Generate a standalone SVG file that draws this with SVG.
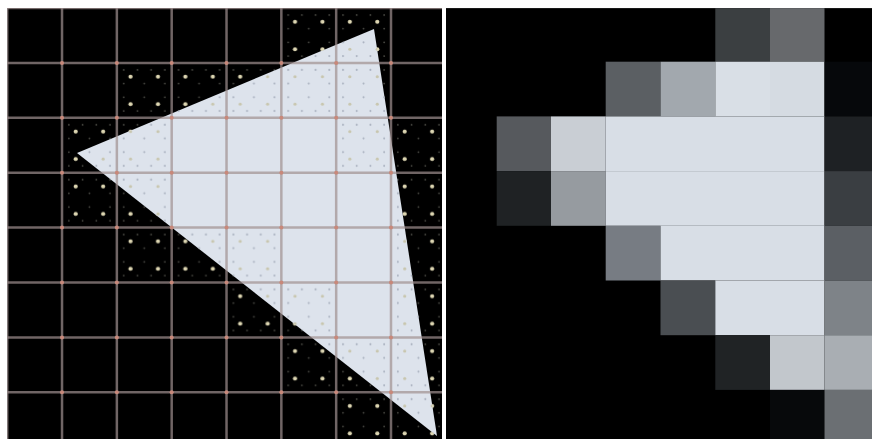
<svg xmlns="http://www.w3.org/2000/svg" width="872" height="439" viewBox="0 0 872 439">
<style>
.grid line{stroke:#a09090;stroke-opacity:0.7;stroke-width:2.5}
.dc{fill:url(#dots)}
.dt{fill:url(#dotsT)}
.px{stroke:none}
</style>
<defs>
<pattern id="dots" patternUnits="userSpaceOnUse" x="7.2" y="8.1" width="54.83" height="54.88">
<rect width="54.83" height="54.88" fill="#000"/>
<g fill="#4a4a44">
<circle cx="6.85" cy="6.86" r="0.9"/><circle cx="20.56" cy="6.86" r="0.9"/><circle cx="34.27" cy="6.86" r="0.9"/><circle cx="47.98" cy="6.86" r="0.9"/>
<circle cx="6.85" cy="20.58" r="0.9"/><circle cx="47.98" cy="20.58" r="0.9"/><circle cx="27.4" cy="20.58" r="0.9"/>
<circle cx="6.85" cy="34.3" r="0.9"/><circle cx="47.98" cy="34.3" r="0.9"/><circle cx="27.4" cy="34.3" r="0.9"/>
<circle cx="6.85" cy="48.02" r="0.9"/><circle cx="20.56" cy="48.02" r="0.9"/><circle cx="34.27" cy="48.02" r="0.9"/><circle cx="47.98" cy="48.02" r="0.9"/>
</g>
<g fill="#ddd6b2">
<circle cx="13.7" cy="13.72" r="2.1"/><circle cx="41.12" cy="13.72" r="2.1"/>
<circle cx="13.7" cy="41.16" r="2.1"/><circle cx="41.12" cy="41.16" r="2.1"/>
</g>
</pattern>
<pattern id="dotsT" patternUnits="userSpaceOnUse" x="7.2" y="8.1" width="54.83" height="54.88">
<g fill="#aab2c0">
<circle cx="6.85" cy="6.86" r="1"/><circle cx="20.56" cy="6.86" r="1"/><circle cx="34.27" cy="6.86" r="1"/><circle cx="47.98" cy="6.86" r="1"/>
<circle cx="6.85" cy="20.58" r="1"/><circle cx="27.4" cy="20.58" r="1"/><circle cx="47.98" cy="20.58" r="1"/>
<circle cx="6.85" cy="34.3" r="1"/><circle cx="27.4" cy="34.3" r="1"/><circle cx="47.98" cy="34.3" r="1"/>
<circle cx="6.85" cy="48.02" r="1"/><circle cx="20.56" cy="48.02" r="1"/><circle cx="34.27" cy="48.02" r="1"/><circle cx="47.98" cy="48.02" r="1"/>
</g>
<g fill="#c8c6ae">
<circle cx="13.7" cy="13.72" r="1.6"/><circle cx="41.12" cy="13.72" r="1.6"/>
<circle cx="13.7" cy="41.16" r="1.6"/><circle cx="41.12" cy="41.16" r="1.6"/>
</g>
</pattern>
<clipPath id="leftClip"><rect x="7.2" y="8.1" width="434.8" height="430.9"/></clipPath>
<clipPath id="triClip"><polygon points="77,153 374,29 437,436"/></clipPath>
</defs>
<rect width="872" height="439" fill="#fff"/>
<g id="left-panel" clip-path="url(#leftClip)">
<rect x="7.2" y="8.1" width="434.8" height="430.9" fill="#000"/>
<g id="sample-cells">
<rect class="dc" x="281.35" y="8.1" width="109.66" height="54.88"/>
<rect class="dc" x="116.86" y="62.98" width="274.15" height="54.88"/>
<rect class="dc" x="62.03" y="117.86" width="109.66" height="54.88"/>
<rect class="dc" x="336.18" y="117.86" width="109.66" height="54.88"/>
<rect class="dc" x="62.03" y="172.74" width="109.66" height="54.88"/>
<rect class="dc" x="391.01" y="172.74" width="54.83" height="54.88"/>
<rect class="dc" x="116.86" y="227.62" width="164.49" height="54.88"/>
<rect class="dc" x="391.01" y="227.62" width="54.83" height="54.88"/>
<rect class="dc" x="226.52" y="282.5" width="109.66" height="54.88"/>
<rect class="dc" x="391.01" y="282.5" width="54.83" height="54.88"/>
<rect class="dc" x="281.35" y="337.38" width="164.49" height="54.88"/>
<rect class="dc" x="336.18" y="392.26" width="109.66" height="54.88"/>
</g>
<polygon id="triangle" points="77,153 374,29 437,436" fill="#dde3ec"/>
<g id="sample-cells-inside" clip-path="url(#triClip)">
<rect class="dt" x="281.35" y="8.1" width="109.66" height="54.88"/>
<rect class="dt" x="116.86" y="62.98" width="274.15" height="54.88"/>
<rect class="dt" x="62.03" y="117.86" width="109.66" height="54.88"/>
<rect class="dt" x="336.18" y="117.86" width="109.66" height="54.88"/>
<rect class="dt" x="62.03" y="172.74" width="109.66" height="54.88"/>
<rect class="dt" x="391.01" y="172.74" width="54.83" height="54.88"/>
<rect class="dt" x="116.86" y="227.62" width="164.49" height="54.88"/>
<rect class="dt" x="391.01" y="227.62" width="54.83" height="54.88"/>
<rect class="dt" x="226.52" y="282.5" width="109.66" height="54.88"/>
<rect class="dt" x="391.01" y="282.5" width="54.83" height="54.88"/>
<rect class="dt" x="281.35" y="337.38" width="164.49" height="54.88"/>
<rect class="dt" x="336.18" y="392.26" width="109.66" height="54.88"/>
</g>
<g class="grid" id="grid">
<line x1="7.2" y1="8.1" x2="7.2" y2="439"/>
<line x1="62.03" y1="8.1" x2="62.03" y2="439"/>
<line x1="116.86" y1="8.1" x2="116.86" y2="439"/>
<line x1="171.69" y1="8.1" x2="171.69" y2="439"/>
<line x1="226.52" y1="8.1" x2="226.52" y2="439"/>
<line x1="281.35" y1="8.1" x2="281.35" y2="439"/>
<line x1="336.18" y1="8.1" x2="336.18" y2="439"/>
<line x1="391.01" y1="8.1" x2="391.01" y2="439"/>
<line x1="7.2" y1="8.1" x2="442" y2="8.1"/>
<line x1="7.2" y1="62.98" x2="442" y2="62.98"/>
<line x1="7.2" y1="117.86" x2="442" y2="117.86"/>
<line x1="7.2" y1="172.74" x2="442" y2="172.74"/>
<line x1="7.2" y1="227.62" x2="442" y2="227.62"/>
<line x1="7.2" y1="282.5" x2="442" y2="282.5"/>
<line x1="7.2" y1="337.38" x2="442" y2="337.38"/>
<line x1="7.2" y1="392.26" x2="442" y2="392.26"/>
</g>
<g id="intersections" fill="#c8887a">
<circle cx="62.03" cy="62.98" r="2"/><circle cx="116.86" cy="62.98" r="2"/><circle cx="171.69" cy="62.98" r="2"/><circle cx="226.52" cy="62.98" r="2"/><circle cx="281.35" cy="62.98" r="2"/><circle cx="336.18" cy="62.98" r="2"/><circle cx="391.01" cy="62.98" r="2"/>
<circle cx="62.03" cy="117.86" r="2"/><circle cx="116.86" cy="117.86" r="2"/><circle cx="171.69" cy="117.86" r="2"/><circle cx="226.52" cy="117.86" r="2"/><circle cx="281.35" cy="117.86" r="2"/><circle cx="336.18" cy="117.86" r="2"/><circle cx="391.01" cy="117.86" r="2"/>
<circle cx="62.03" cy="172.74" r="2"/><circle cx="116.86" cy="172.74" r="2"/><circle cx="171.69" cy="172.74" r="2"/><circle cx="226.52" cy="172.74" r="2"/><circle cx="281.35" cy="172.74" r="2"/><circle cx="336.18" cy="172.74" r="2"/><circle cx="391.01" cy="172.74" r="2"/>
<circle cx="62.03" cy="227.62" r="2"/><circle cx="116.86" cy="227.62" r="2"/><circle cx="171.69" cy="227.62" r="2"/><circle cx="226.52" cy="227.62" r="2"/><circle cx="281.35" cy="227.62" r="2"/><circle cx="336.18" cy="227.62" r="2"/><circle cx="391.01" cy="227.62" r="2"/>
<circle cx="62.03" cy="282.5" r="2"/><circle cx="116.86" cy="282.5" r="2"/><circle cx="171.69" cy="282.5" r="2"/><circle cx="226.52" cy="282.5" r="2"/><circle cx="281.35" cy="282.5" r="2"/><circle cx="336.18" cy="282.5" r="2"/><circle cx="391.01" cy="282.5" r="2"/>
<circle cx="62.03" cy="337.38" r="2"/><circle cx="116.86" cy="337.38" r="2"/><circle cx="171.69" cy="337.38" r="2"/><circle cx="226.52" cy="337.38" r="2"/><circle cx="281.35" cy="337.38" r="2"/><circle cx="336.18" cy="337.38" r="2"/><circle cx="391.01" cy="337.38" r="2"/>
<circle cx="62.03" cy="392.26" r="2"/><circle cx="116.86" cy="392.26" r="2"/><circle cx="171.69" cy="392.26" r="2"/><circle cx="226.52" cy="392.26" r="2"/><circle cx="281.35" cy="392.26" r="2"/><circle cx="336.18" cy="392.26" r="2"/><circle cx="391.01" cy="392.26" r="2"/>
</g>
</g>
<g id="right-panel">
<rect x="446" y="8.1" width="426" height="430.9" fill="#000"/>
<g class="px">
<rect x="715.3" y="8.1" width="54.7" height="53.6" fill="#3b3f41"/>
<rect x="770" y="8.1" width="54.5" height="53.6" fill="#67696c"/>
<rect x="605.7" y="61.7" width="54.8" height="54.7" fill="#5b5f63"/>
<rect x="660.5" y="61.7" width="54.8" height="54.7" fill="#a2a8ae"/>
<rect x="715.3" y="61.7" width="54.7" height="54.7" fill="#d9dfe6"/>
<rect x="770" y="61.7" width="54.5" height="54.7" fill="#d5dbe2"/>
<rect x="824.5" y="61.7" width="47.5" height="54.7" fill="#06080b"/>
<rect x="496.7" y="116.4" width="54.3" height="54.7" fill="#56595d"/>
<rect x="551" y="116.4" width="54.7" height="54.7" fill="#c9ced4"/>
<rect x="605.7" y="116.4" width="218.8" height="54.7" fill="#d8dee6"/>
<rect x="824.5" y="116.4" width="47.5" height="54.7" fill="#1e2124"/>
<rect x="496.7" y="171.1" width="54.3" height="54.7" fill="#1f2224"/>
<rect x="551" y="171.1" width="54.7" height="54.7" fill="#969ba0"/>
<rect x="605.7" y="171.1" width="218.8" height="54.7" fill="#d8dee6"/>
<rect x="824.5" y="171.1" width="47.5" height="54.7" fill="#3a3e42"/>
<rect x="605.7" y="225.8" width="54.8" height="54.7" fill="#777c83"/>
<rect x="660.5" y="225.8" width="164" height="54.7" fill="#d8dee6"/>
<rect x="824.5" y="225.8" width="47.5" height="54.7" fill="#5b5f64"/>
<rect x="660.5" y="280.5" width="54.8" height="54.7" fill="#4a4e52"/>
<rect x="715.3" y="280.5" width="109.2" height="54.7" fill="#d8dee6"/>
<rect x="824.5" y="280.5" width="47.5" height="54.7" fill="#7e8388"/>
<rect x="715.3" y="335.2" width="54.7" height="54.7" fill="#202325"/>
<rect x="770" y="335.2" width="54.5" height="54.7" fill="#c2c7cc"/>
<rect x="824.5" y="335.2" width="47.5" height="54.7" fill="#a9aeb3"/>
<rect x="770" y="389.9" width="54.5" height="49.1" fill="#07090b"/>
<rect x="824.5" y="389.9" width="47.5" height="49.1" fill="#6b6f73"/>
</g>
</g>
</svg>
